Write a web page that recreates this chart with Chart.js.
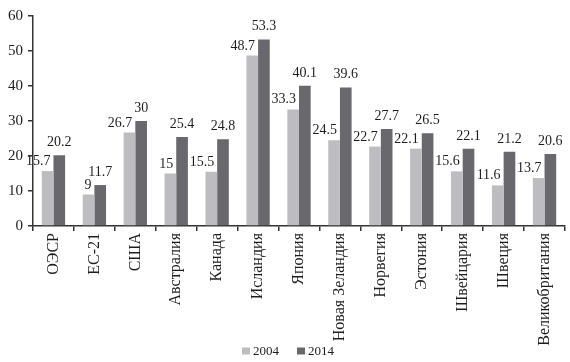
<!DOCTYPE html>
<html>
<head>
<meta charset="utf-8">
<script src="https://cdn.jsdelivr.net/npm/chart.js@4/dist/chart.umd.min.js"></script>
<style>
  html, body { margin: 0; padding: 0; background: #fff; }
  #wrap { width: 570px; height: 362px; }
</style>
</head>
<body>
<div id="wrap"><canvas id="chart"></canvas></div>
<script>
const categories = ['ОЭСР', 'ЕС-21', 'США', 'Австралия', 'Канада', 'Исландия', 'Япония',
  'Новая Зеландия', 'Норвегия', 'Эстония', 'Швейцария', 'Швеция', 'Великобритания']
const values2004 = [15.7, 9, 26.7, 15, 15.5, 48.7, 33.3, 24.5, 22.7, 22.1, 15.6, 11.6, 13.7]
const values2014 = [20.2, 11.7, 30, 25.4, 24.8, 53.3, 40.1, 39.6, 27.7, 26.5, 22.1, 21.2, 20.6]
const yTicks = [0, 10, 20, 30, 40, 50, 60]

const SERIF = '"Liberation Serif", "Times New Roman", serif'
const INK = '#1e1e1e'

// value labels above bars, light series pulled to the left like the original
const valueLabels = {
  id: 'valueLabels',
  afterDatasetsDraw(chart) {
    const ctx = chart.ctx
    ctx.save()
    ctx.font = '14px ' + SERIF
    ctx.fillStyle = INK
    ctx.textBaseline = 'alphabetic'
    chart.data.datasets.forEach((ds, di) => {
      chart.getDatasetMeta(di).data.forEach((bar, i) => {
        const txt = String(ds.data[i])
        if (di === 0) {
          ctx.textAlign = 'right'
          ctx.fillText(txt, bar.x + bar.width / 2 - 3, bar.y - 6)
        } else {
          ctx.textAlign = 'center'
          ctx.fillText(txt, bar.x, bar.y - 9)
        }
      })
    })
    ctx.restore()
  }
}

// compact legend at the bottom: small square, tight gap, then year
const bottomLegend = {
  id: 'bottomLegend',
  afterDraw(chart) {
    const ctx = chart.ctx
    ctx.save()
    ctx.font = '13px ' + SERIF
    ctx.textBaseline = 'middle'
    ctx.textAlign = 'left'
    const box = 8, gap = 3, itemGap = 18
    const items = chart.data.datasets.map(ds => ({
      text: ds.label, color: ds.backgroundColor, w: box + gap + ctx.measureText(ds.label).width
    }))
    const total = items.reduce((s, it) => s + it.w, 0) + itemGap * (items.length - 1)
    let x = (chart.width - total) / 2 + 3
    const cy = 351
    items.forEach(it => {
      ctx.fillStyle = it.color
      ctx.fillRect(x, cy - 3.5, box, 7)
      ctx.fillStyle = INK
      ctx.fillText(it.text, x + box + gap, cy + 1)
      x += it.w + itemGap
    })
    ctx.restore()
  }
}

new Chart(document.getElementById('chart'), {
  type: 'bar',
  data: {
    labels: categories,
    datasets: [
      { label: '2004', data: values2004, backgroundColor: '#bdbdc1' },
      { label: '2014', data: values2014, backgroundColor: '#69686d' }
    ]
  },
  options: {
    responsive: true,
    maintainAspectRatio: false,
    animation: false,
    layout: { padding: { top: 16, right: 5, left: 0, bottom: 0 } },
    datasets: {
      bar: { categoryPercentage: 0.57, barPercentage: 1 }
    },
    plugins: {
      tooltip: { enabled: false },
      legend: { display: false }
    },
    scales: {
      x: {
        grid: { display: true, drawOnChartArea: false, offset: true, tickLength: 5, color: '#333', lineWidth: 1.5 },
        border: { display: true, color: '#333', width: 1.5 },
        ticks: {
          color: INK,
          font: { family: SERIF, size: 16 },
          minRotation: 90,
          maxRotation: 90,
          autoSkip: false,
          padding: 2
        },
        afterFit(scale) { scale.height = 136 }
      },
      y: {
        min: 0,
        max: 60,
        afterBuildTicks(scale) { scale.ticks = yTicks.map(v => ({ value: v })) },
        grid: { display: true, drawOnChartArea: false, tickLength: 5, color: '#333', lineWidth: 1.5 },
        border: { display: true, color: '#333', width: 1.5 },
        ticks: {
          color: INK,
          font: { family: SERIF, size: 15 },
          padding: 5
        },
        afterFit(scale) { scale.width = 33 }
      }
    }
  },
  plugins: [valueLabels, bottomLegend]
})
</script>
</body>
</html>
